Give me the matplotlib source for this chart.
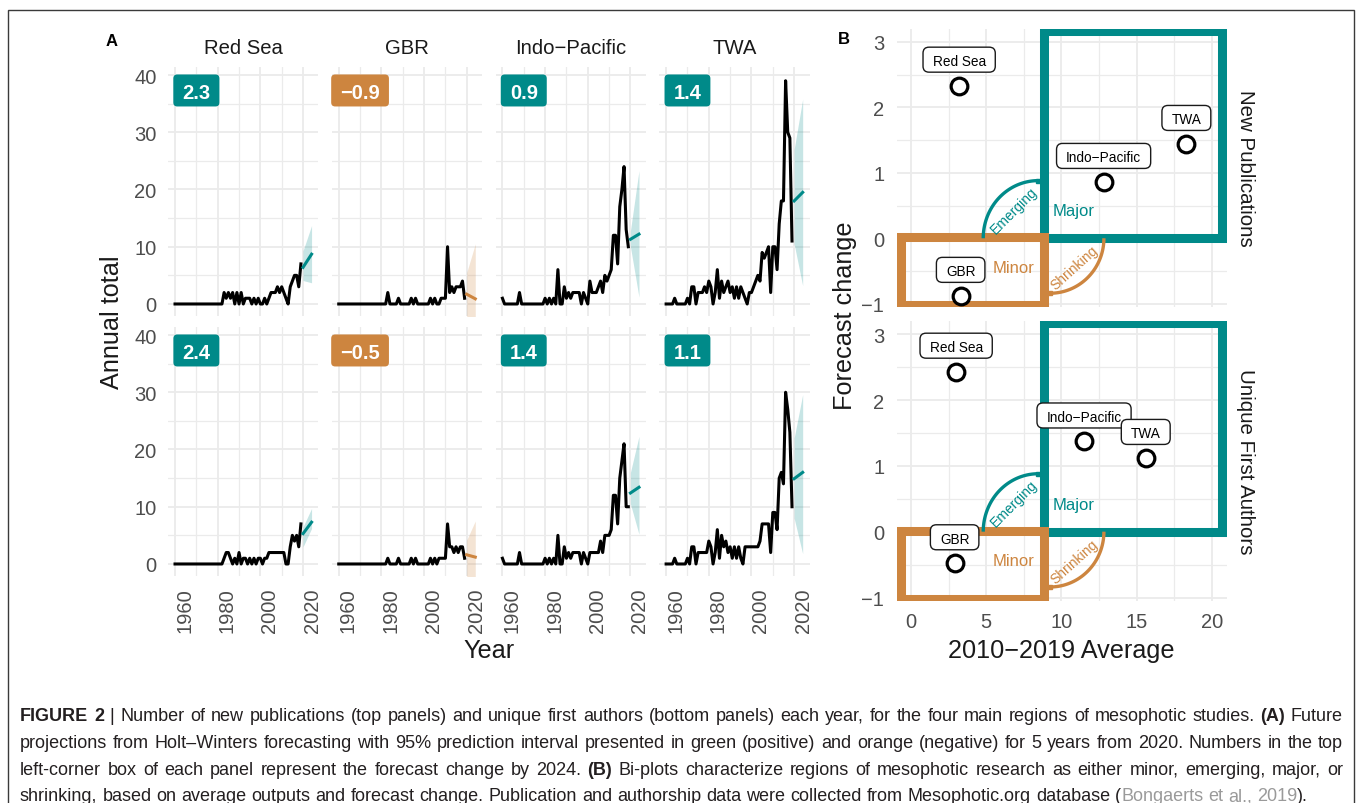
import numpy as np
import matplotlib.pyplot as plt
from matplotlib.patches import FancyBboxPatch, Rectangle
from matplotlib.transforms import IdentityTransform

# ---- values ----
regions = ['Red Sea', 'GBR', 'Indo\u2212Pacific', 'TWA']
years = np.arange(1960, 2020)
fc_years = [2020, 2024]

# new publications per year, 1960-2019 (one row per decade)
pubs_red_sea = [0, 0, 0, 0, 0, 0, 0, 0, 0, 0,
                0, 0, 0, 0, 0, 0, 0, 0, 0, 0,
                0, 0, 0, 2, 1, 2, 1, 2, 0, 2,
                0, 2, 0, 1, 1, 1, 0, 1, 0, 1,
                0, 0, 1, 0, 1, 2, 2, 2, 3, 2,
                3, 2, 1, 0, 3, 4, 5, 5, 3, 7]
pubs_gbr = [0, 0, 0, 0, 0, 0, 0, 0, 0, 0,
            0, 0, 0, 0, 0, 0, 0, 0, 0, 0,
            0, 0, 0, 2, 0, 0, 0, 0, 1, 0,
            0, 0, 0, 0, 1, 0, 1, 0, 0, 0,
            0, 0, 0, 1, 0, 1, 0, 0, 1, 1,
            1, 10, 2, 3, 2, 3, 3, 3, 4, 1]
pubs_indo = [1, 0, 0, 0, 0, 0, 0, 0, 2, 0,
             0, 0, 0, 0, 0, 0, 0, 0, 0, 0,
             1, 0, 1, 0, 1, 0, 6, 0, 0, 3,
             1, 2, 1, 2, 2, 2, 2, 0, 2, 1,
             0, 4, 2, 2, 2, 3, 4, 2, 5, 4,
             5, 6, 12, 12, 7, 17, 20, 24, 13, 10]
pubs_twa = [0, 0, 0, 0, 1, 0, 0, 0, 0, 0,
            1, 0, 3, 3, 0, 2, 2, 2, 3, 2,
            4, 3, 0, 2, 6, 1, 4, 2, 3, 4,
            2, 3, 1, 3, 1, 3, 2, 1, 0, 2,
            2, 3, 4, 5, 4, 9, 8, 9, 10, 2,
            10, 10, 6, 14, 18, 18, 39, 30, 29, 11]

# unique first authors per year, 1960-2019
auth_red_sea = [0, 0, 0, 0, 0, 0, 0, 0, 0, 0,
                0, 0, 0, 0, 0, 0, 0, 0, 0, 0,
                0, 0, 0, 1, 2, 2, 1, 0, 1, 0,
                2, 0, 1, 1, 0, 1, 0, 1, 0, 1,
                1, 0, 1, 1, 2, 2, 2, 2, 2, 2,
                2, 2, 0, 0, 3, 5, 4, 5, 3, 7]
auth_gbr = [0, 0, 0, 0, 0, 0, 0, 0, 0, 0,
            0, 0, 0, 0, 0, 0, 0, 0, 0, 0,
            0, 0, 0, 1, 0, 0, 0, 0, 1, 0,
            0, 0, 0, 0, 1, 0, 1, 0, 0, 0,
            0, 0, 0, 1, 0, 1, 0, 1, 1, 1,
            1, 7, 3, 3, 2, 3, 2, 3, 3, 1]
auth_indo = [1, 0, 0, 0, 0, 0, 0, 0, 2, 0,
             0, 0, 0, 0, 0, 0, 0, 0, 0, 0,
             1, 0, 1, 0, 1, 0, 5, 0, 0, 3,
             1, 2, 1, 2, 2, 2, 2, 0, 2, 1,
             0, 2, 2, 2, 2, 2, 4, 2, 5, 5,
             5, 6, 12, 12, 7, 15, 18, 21, 10, 10]
auth_twa = [0, 0, 0, 0, 1, 0, 0, 0, 0, 0,
            1, 0, 3, 3, 0, 2, 2, 2, 2, 2,
            4, 3, 0, 2, 6, 1, 5, 3, 4, 2,
            3, 1, 3, 1, 3, 1, 0, 3, 3, 3,
            3, 3, 3, 3, 4, 7, 7, 7, 7, 2,
            9, 9, 6, 15, 16, 14, 30, 27, 23, 10]

# Holt-Winters forecast (2020, 2024): mean, lower and upper 95% bound
fc_pubs = [[6.4, 8.7], [1.7, 0.9], [11.3, 12.2], [18.0, 19.5]]
lo_pubs = [[4.1, 3.7], [-3.0, -8.0], [10.0, 1.2], [10.5, 3.2]]
hi_pubs = [[9.3, 13.7], [5.5, 10.5], [12.8, 23.3], [27.0, 35.8]]
fc_auth = [[5.3, 7.3], [1.6, 1.2], [12.4, 13.4], [14.9, 16.0]]
lo_auth = [[3.0, 6.2], [-3.0, -6.0], [10.5, 5.2], [8.0, 1.8]]
hi_auth = [[6.5, 9.7], [4.2, 7.5], [16.0, 22.3], [22.0, 29.6]]

# forecast change and 2010-2019 averages (panel B)
chg_pubs = [2.33, -0.88, 0.86, 1.44]
avg_pubs = [3.2, 3.3, 12.8, 18.3]
chg_auth = [2.43, -0.48, 1.37, 1.12]
avg_auth = [3.0, 2.9, 11.5, 15.6]

plt.rcParams['font.family'] = ['Liberation Sans', 'DejaVu Sans']
plt.rcParams['axes.unicode_minus'] = True

W, H = 1357, 804
fig = plt.figure(figsize=(W / 100, H / 100), dpi=100)
renderer = fig.canvas.get_renderer()

TEAL = '#008A89'
ORANGE = '#CD853F'
GRID = '#EBEBEB'
TICK = '#4D4D4D'
INK = '#1A1A1A'


def add_ax(x0, y0, x1, y1):
    # pixel box, measured from the top-left corner
    return fig.add_axes([x0 / W, 1 - y1 / H, (x1 - x0) / W, (y1 - y0) / H])


def ftext(x, y, s, **kw):
    return fig.text(x / W, 1 - y / H, s, **kw)


def style(ax, xmaj, xmin, ymaj, ymin):
    ax.set_xticks(xmaj)
    ax.set_xticks(xmin, minor=True)
    ax.set_yticks(ymaj)
    ax.set_yticks(ymin, minor=True)
    ax.grid(which='major', color=GRID, lw=1.3)
    ax.grid(which='minor', color=GRID, lw=0.9)
    ax.set_axisbelow(True)
    for s in ax.spines.values():
        s.set_visible(False)
    ax.tick_params(which='both', length=0, labelcolor=TICK, labelsize=14.5)


def rbox(ax, x, y, s, dy, size, fc, ec, tc, weight, padx, h, r, lw):
    # rounded label box sized in pixels around the text
    cx, cy = ax.transData.transform((x, y))
    cy += dy
    t = fig.text(cx / W, cy / H, s, ha='center', va='center_baseline',
                 fontsize=size, color=tc, fontweight=weight, zorder=6)
    w = t.get_window_extent(renderer).width + 2 * padx
    p = FancyBboxPatch((cx - w / 2, cy - h / 2), w, h,
                       boxstyle=f'round,pad=0,rounding_size={r}',
                       transform=IdentityTransform(), fc=fc, ec=ec, lw=lw,
                       zorder=5)
    fig.add_artist(p)


def fmt(v):
    return f'{v:.1f}'.replace('-', '\u2212')


# ---------------- panel A ----------------
a_left = [168.2, 331.9, 495.6, 659.3]
a_w = 150.2
a_top = [68, 328]
a_h = 249
rows = [([pubs_red_sea, pubs_gbr, pubs_indo, pubs_twa], fc_pubs, lo_pubs, hi_pubs, chg_pubs),
        ([auth_red_sea, auth_gbr, auth_indo, auth_twa], fc_auth, lo_auth, hi_auth, chg_auth)]

for r, (series, fc, lo, hi, chg) in enumerate(rows):
    for c in range(4):
        ax = add_ax(a_left[c], a_top[r], a_left[c] + a_w, a_top[r] + a_h)
        style(ax, [1960, 1980, 2000, 2020], [1970, 1990, 2010],
              [0, 10, 20, 30, 40], [5, 15, 25, 35])
        ax.set_xlim(1956.8, 2027.2)
        ax.set_ylim(-2.1, 41.4)
        col = TEAL if chg[c] > 0 else ORANGE
        ax.fill_between(fc_years, lo[c], hi[c], color=col, alpha=0.22, lw=0)
        ax.plot(years, series[c], color='black', lw=2.2)
        ax.plot(fc_years, fc[c], color=col, lw=2.2)
        ax.tick_params(axis='y', pad=8.5, labelleft=(c == 0))
        ax.tick_params(axis='x', pad=8, labelbottom=(r == 1))
        if r == 1:
            for lab in ax.get_xticklabels():
                lab.set_rotation(90)
                lab.set_ha('left')
                lab.set_va('top')
        else:
            ftext(a_left[c] + a_w / 2, 49, regions[c], ha='center', va='center',
                  fontsize=14.6, color=INK)
        rbox(ax, 1970, 37.3, fmt(chg[c]), 0, 14.5, col, 'none', 'white',
             'bold', 9, 32, 4, 0)

ftext(111.7, 322, 'Annual total', rotation=90, ha='center', va='center',
      fontsize=18.2, color=INK)
ftext(489, 651, 'Year', ha='center', va='center', fontsize=18.2, color=INK)
ftext(112, 41, 'A', ha='center', va='center', fontsize=12, fontweight='bold')

# ---------------- panel B ----------------
b_x0, b_x1 = 896.7, 1226.7
b_rows = [(29.7, 308.0), (322.0, 601.8)]
b_data = [(avg_pubs, chg_pubs, 'New Publications'),
          (avg_auth, chg_auth, 'Unique First Authors')]
t = np.linspace(0, np.pi / 2, 60)

for r, (avg, chg, strip) in enumerate(b_data):
    y0, y1 = b_rows[r]
    ax = add_ax(b_x0, y0, b_x1, y1)
    style(ax, [0, 5, 10, 15, 20], [2.5, 7.5, 12.5, 17.5],
          [-1, 0, 1, 2, 3], [-0.5, 0.5, 1.5, 2.5])
    ax.set_xlim(-0.95, 20.98)
    ax.set_ylim(-1.05, 3.2)
    ax.tick_params(axis='y', pad=9)
    ax.tick_params(axis='x', pad=8, labelbottom=(r == 1))

    ax.add_patch(Rectangle((8.84, 0.0), 20.7 - 8.84, 3.17, fill=False,
                           ec=TEAL, lw=6.5, joinstyle='miter', zorder=2))
    ax.add_patch(Rectangle((-0.66, -1.02), 8.84 + 0.66, 1.035, fill=False,
                           ec=ORANGE, lw=6.5, joinstyle='miter', zorder=2))

    ax.plot(8.46 - 3.66 * np.cos(t), 0.88 * np.sin(t), color=TEAL, lw=2.4,
            solid_capstyle='butt', zorder=3)
    ax.plot([8.46], [0.88], marker='s', ms=3.5, color=TEAL, zorder=3)
    ax.plot(9.24 + 3.58 * np.cos(t), -0.84 * np.sin(t), color=ORANGE, lw=2.4,
            solid_capstyle='butt', zorder=3)
    ax.plot([9.24], [-0.84], marker='s', ms=3.5, color=ORANGE, zorder=3)

    ax.text(6.85, 0.43, 'Emerging', rotation=45, color=TEAL, fontsize=10,
            ha='center', va='center', rotation_mode='anchor')
    ax.text(10.85, -0.45, 'Shrinking', rotation=42, color=ORANGE, fontsize=10,
            ha='center', va='center', rotation_mode='anchor')
    ax.text(10.78, 0.42, 'Major', color=TEAL, fontsize=12, ha='center', va='center')
    ax.text(6.83, -0.44, 'Minor', color=ORANGE, fontsize=12, ha='center', va='center')

    ax.plot(avg, chg, 'o', ms=12, mfc='white', mec='black', mew=2.3,
            ls='none', zorder=4)
    for i in range(4):
        rbox(ax, avg[i], chg[i], regions[i], 26, 9.8, 'white', INK, 'black',
             'normal', 9.5, 25, 6, 1.0)
    ftext(1246, (y0 + y1) / 2, strip, rotation=270, ha='center', va='center',
          fontsize=14.8, color=INK)

ftext(845, 316, 'Forecast change', rotation=90, ha='center', va='center',
      fontsize=18.2, color=INK)
ftext(1061.7, 651, '2010\u22122019 Average', ha='center', va='center',
      fontsize=18.2, color=INK)
ftext(844, 40, 'B', ha='center', va='center', fontsize=12, fontweight='bold')

# ---------------- caption ----------------
CAP = '#231F20'
LINK = '#9A9A9A'
cap_lines = [
    [('FIGURE 2', 'bold', CAP),
     (' | Number of new publications (top panels) and unique first authors '
      '(bottom panels) each year, for the four main regions of mesophotic '
      'studies. ', 'normal', CAP), ('(A)', 'bold', CAP), (' Future', 'normal', CAP)],
    [('projections from Holt\u2013Winters forecasting with 95% prediction interval '
      'presented in green (positive) and orange (negative) for 5 years from 2020. '
      'Numbers in the top', 'normal', CAP)],
    [('left-corner box of each panel represent the forecast change by 2024. ',
      'normal', CAP), ('(B)', 'bold', CAP),
     (' Bi-plots characterize regions of mesophotic research as either minor, '
      'emerging, major, or', 'normal', CAP)],
    [('shrinking, based on average outputs and forecast change. Publication and '
      'authorship data were collected from Mesophotic.org database (', 'normal', CAP),
     ('Bongaerts et al., 2019', 'normal', LINK), (').', 'normal', CAP)],
]
cap_y = [715, 741.7, 768.3, 795]
cap_x0, cap_x1 = 20, 1343

probe = fig.text(0, 0, ''.join(s for s, _, _ in cap_lines[0]), fontsize=10)
cap_fs = 10 * (cap_x1 - cap_x0) / probe.get_window_extent(renderer).width * 0.985
probe.remove()

for li, segs in enumerate(cap_lines):
    toks = []
    pending = False
    for s, wt, col in segs:
        for i, p in enumerate(s.split(' ')):
            if i > 0:
                pending = True
            if p:
                toks.append((p, wt, col, pending and len(toks) > 0))
                pending = False
    arts = [ftext(0, cap_y[li], p, fontsize=cap_fs, fontweight=wt, color=col,
                  va='center_baseline') for p, wt, col, _ in toks]
    widths = [a.get_window_extent(renderer).width for a in arts]
    n_gap = sum(1 for tk in toks if tk[3])
    if li < len(cap_lines) - 1:
        gap = (cap_x1 - cap_x0 - sum(widths)) / n_gap
    else:
        gap = cap_fs * 100 / 72 * 0.278
    x = cap_x0
    for a, w, tk in zip(arts, widths, toks):
        if tk[3]:
            x += gap
        a.set_x(x / W)
        x += w

# frame around figure and caption
fig.add_artist(Rectangle((8 / W, -0.05), (1354 - 8) / W, 1 - 11 / H + 0.05,
                         transform=fig.transFigure, fill=False, ec='#3A3A3A', lw=1.0))

fig.savefig('out.png', dpi=100)
